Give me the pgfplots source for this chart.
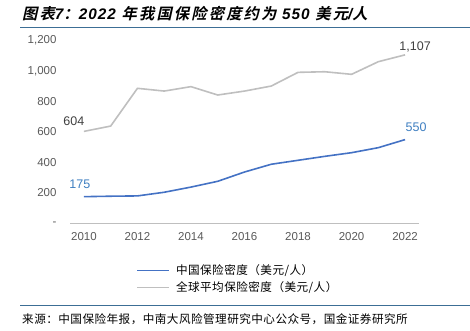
\documentclass[border=0pt]{standalone}
\usepackage{pgfplots}
\pgfplotsset{compat=1.18}
\usepackage{fontspec}
\setmainfont{Liberation Sans}
\newfontfamily\cjk[LetterSpace=4]{Noto Sans CJK SC}
\newfontfamily\cjkbi[FakeSlant=0.22,LetterSpace=14]{Noto Sans CJK SC Bold}
\newfontfamily\latbi[LetterSpace=7]{Liberation Sans Bold Italic}
\definecolor{cnblue}{HTML}{4472C4}
\definecolor{glgray}{HTML}{BFBFBF}
\definecolor{lblblue}{HTML}{3F7FC1}
\definecolor{ticktext}{HTML}{595959}
\definecolor{rule}{HTML}{3C6E95}
\begin{document}
\begin{tikzpicture}[x=1pt,y=1pt]
\useasboundingbox (0,0) rectangle (470,331);
% title
\node[anchor=west,inner sep=0] at (22,331-14) {\fontsize{15.3}{16}\selectfont\cjkbi 图表{\latbi 7}：{\latbi 2022} 年我国保险密度约为 {\latbi 550} 美元{\latbi /}人};
\draw[rule,line width=1.2pt] (20,331-27.5) -- (470,331-27.5);
% source
\draw[rule,line width=1.2pt] (20,331-305.5) -- (470,331-305.5);
\node[anchor=west,inner sep=0] at (22,331-319.5) {\fontsize{11.6}{12}\selectfont\cjk 来源：中国保险年报，中南大风险管理研究中心公众号，国金证券研究所};
\begin{axis}[
  scale only axis,
  width=349pt, height=182.6pt,
  at={(70pt,107.7pt)}, anchor=south west,
  xmin=2009.48, xmax=2022.52,
  ymin=0, ymax=1200,
  axis x line*=bottom, axis y line*=left,
  y axis line style={draw=none},
  x axis line style={draw=glgray, line width=1.3pt, -},
  major tick length=0,
  xtick={2010,2012,...,2022},
  xticklabels={2010,2012,2014,2016,2018,2020,2022},
  ytick={0,200,400,600,800,1000,1200},
  yticklabels={{-\hspace{6pt}},200,400,600,800,{1,000},{1,200}},
  tick label style={font=\fontsize{11.5}{12}\selectfont, text=ticktext},
  /pgf/number format/assume math mode=true,
  xticklabel style={yshift=-6pt},
  yticklabel style={xshift=-10pt},
  clip=false,
  legend style={draw=none, fill=none, at={(0.19,-0.215)}, anchor=north west,
    font=\fontsize{11.6}{12}\selectfont\cjk, inner sep=0pt, row sep=1.5pt,
    /tikz/every even column/.append style={column sep=0pt}},
  legend cell align=left,
  legend image code/.code={\draw[#1,line width=1.5pt] (0pt,0pt) -- (32pt,0pt);},
]
\addplot[cnblue, line width=1.6pt] coordinates {
(2010,175) (2011,178) (2012,180) (2013,204) (2014,238) (2015,276) (2016,337)
(2017,388) (2018,414) (2019,440) (2020,464) (2021,497) (2022,550)};
\addlegendentry{\hspace{4pt}中国保险密度（美元/人）}
\addplot[glgray, line width=1.6pt] coordinates {
(2010,604) (2011,639) (2012,887) (2013,869) (2014,898) (2015,843) (2016,869)
(2017,902) (2018,992) (2019,996) (2020,979) (2021,1062) (2022,1107)};
\addlegendentry{\hspace{4pt}全球平均保险密度（美元/人）}
\node[text=black!75, font=\fontsize{12.5}{13}\selectfont] at (axis cs:2010,604) [xshift=-10pt, yshift=9.7pt] {604};
\node[text=lblblue, font=\fontsize{12.5}{13}\selectfont] at (axis cs:2010,175) [xshift=-4pt, yshift=12.7pt] {175};
\node[text=black!75, font=\fontsize{12.5}{13}\selectfont] at (axis cs:2022,1107) [xshift=10pt, yshift=7.8pt] {1,107};
\node[text=lblblue, font=\fontsize{12.5}{13}\selectfont] at (axis cs:2022,550) [xshift=11pt, yshift=12.6pt] {550};
\end{axis}
\end{tikzpicture}
\end{document}
